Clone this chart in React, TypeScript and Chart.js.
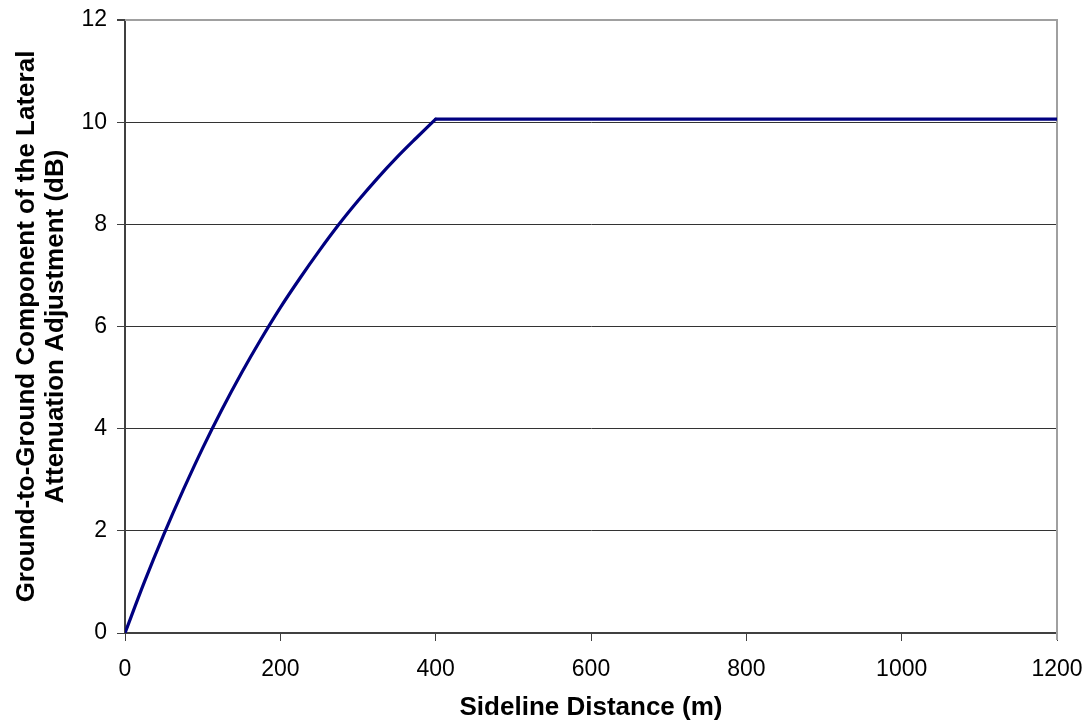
import React, { useEffect, useRef } from "react";
import { Chart, registerables } from "chart.js";

Chart.register(...registerables);

// Sideline distance (m) and ground-to-ground lateral attenuation (dB)
const distances = [0, 25, 50, 75, 100, 125, 150, 175, 200, 225, 250, 275, 300, 325, 350, 375, 400, 1200];
const adjustment = [0, 1.0, 1.93, 2.8, 3.62, 4.38, 5.09, 5.75, 6.37, 6.94, 7.48, 7.99, 8.46, 8.9, 9.31, 9.69, 10.06, 10.06];
// index where the curve reaches its plateau
const plateauIndex = 16;

const xTitle = "Sideline Distance (m)";
const yTitle = ["Ground-to-Ground Component of the Lateral", "Attenuation Adjustment (dB)"];
const xRange = [0, 1200];
const yRange = [0, 12];
const xStep = 200;
const yStep = 2;

const FONT = "'Liberation Sans', Arial, Helvetica, sans-serif";
const LINE = "#000080";

const framePlugin = {
  id: "frame",
  beforeDatasetsDraw(chart: any) {
    const { ctx, chartArea } = chart;
    ctx.save();
    ctx.strokeStyle = "#a0a0a0";
    ctx.lineWidth = 2;
    ctx.beginPath();
    ctx.moveTo(chartArea.left, chartArea.top);
    ctx.lineTo(chartArea.right, chartArea.top);
    ctx.lineTo(chartArea.right, chartArea.bottom + 7);
    ctx.stroke();
    ctx.restore();
  },
};

export default function App() {
  const canvasRef = useRef<HTMLCanvasElement | null>(null);

  useEffect(() => {
    if (!canvasRef.current) return;
    const points = distances.map((x, i) => ({ x, y: adjustment[i] }));
    const chart = new Chart(canvasRef.current, {
      type: "scatter",
      data: {
        datasets: [
          {
            label: "Ground-to-Ground (rising)",
            data: points.slice(0, plateauIndex + 1),
            showLine: true,
            borderColor: LINE,
            backgroundColor: LINE,
            borderWidth: 3.2,
            pointRadius: 0,
            cubicInterpolationMode: "monotone",
            borderCapStyle: "round",
          },
          {
            label: "Ground-to-Ground (plateau)",
            data: points.slice(plateauIndex),
            showLine: true,
            borderColor: LINE,
            backgroundColor: LINE,
            borderWidth: 3.2,
            pointRadius: 0,
            tension: 0,
            borderCapStyle: "round",
          },
        ],
      },
      options: {
        animation: false,
        responsive: true,
        maintainAspectRatio: false,
        layout: { padding: { left: 0, right: 29, top: 20, bottom: 0 } },
        plugins: {
          legend: { display: false },
          tooltip: { enabled: false },
        },
        scales: {
          x: {
            type: "linear",
            min: xRange[0],
            max: xRange[1],
            ticks: {
              stepSize: xStep,
              color: "#000",
              padding: 15,
              font: { family: FONT, size: 23 },
              callback: (v: any) => String(v),
            },
            grid: {
              display: true,
              drawOnChartArea: false,
              drawTicks: true,
              tickLength: 8,
              color: "#404040",
              tickColor: "#404040",
            },
            border: { display: true, color: "#404040", width: 2 },
            title: {
              display: true,
              text: xTitle,
              color: "#000",
              font: { family: FONT, size: 26, weight: "bold", lineHeight: 1 },
              padding: { top: 0, bottom: 0 },
            },
            afterFit(scale: any) {
              scale.height = 88;
              scale.paddingLeft = 0;
              scale.paddingRight = 0;
            },
          },
          y: {
            type: "linear",
            min: yRange[0],
            max: yRange[1],
            ticks: {
              stepSize: yStep,
              color: "#000",
              padding: 10,
              font: { family: FONT, size: 23 },
              callback: (v: any) => String(v),
            },
            grid: {
              display: true,
              drawTicks: true,
              tickLength: 8,
              color: (ctx: any) => (ctx.tick && ctx.tick.value === yRange[1] ? "#a0a0a0" : "#333333"),
              lineWidth: (ctx: any) => (ctx.tick && ctx.tick.value === yRange[1] ? 2 : 1),
              tickColor: "#404040",
            },
            border: { display: true, color: "#404040", width: 2 },
            title: {
              display: true,
              text: yTitle,
              color: "#000",
              font: { family: FONT, size: 26, weight: "bold", lineHeight: "29px" },
              padding: { top: 12.5, bottom: 0 },
            },
            afterFit(scale: any) {
              scale.width = 125;
              scale.paddingTop = 0;
              scale.paddingBottom = 0;
            },
          },
        },
      },
      plugins: [framePlugin],
    } as any);
    return () => chart.destroy();
  }, []);

  return (
    <div style={{ position: "fixed", left: 0, top: 0, width: 1086, height: 721, background: "#fff" }}>
      <canvas ref={canvasRef} />
    </div>
  );
}
